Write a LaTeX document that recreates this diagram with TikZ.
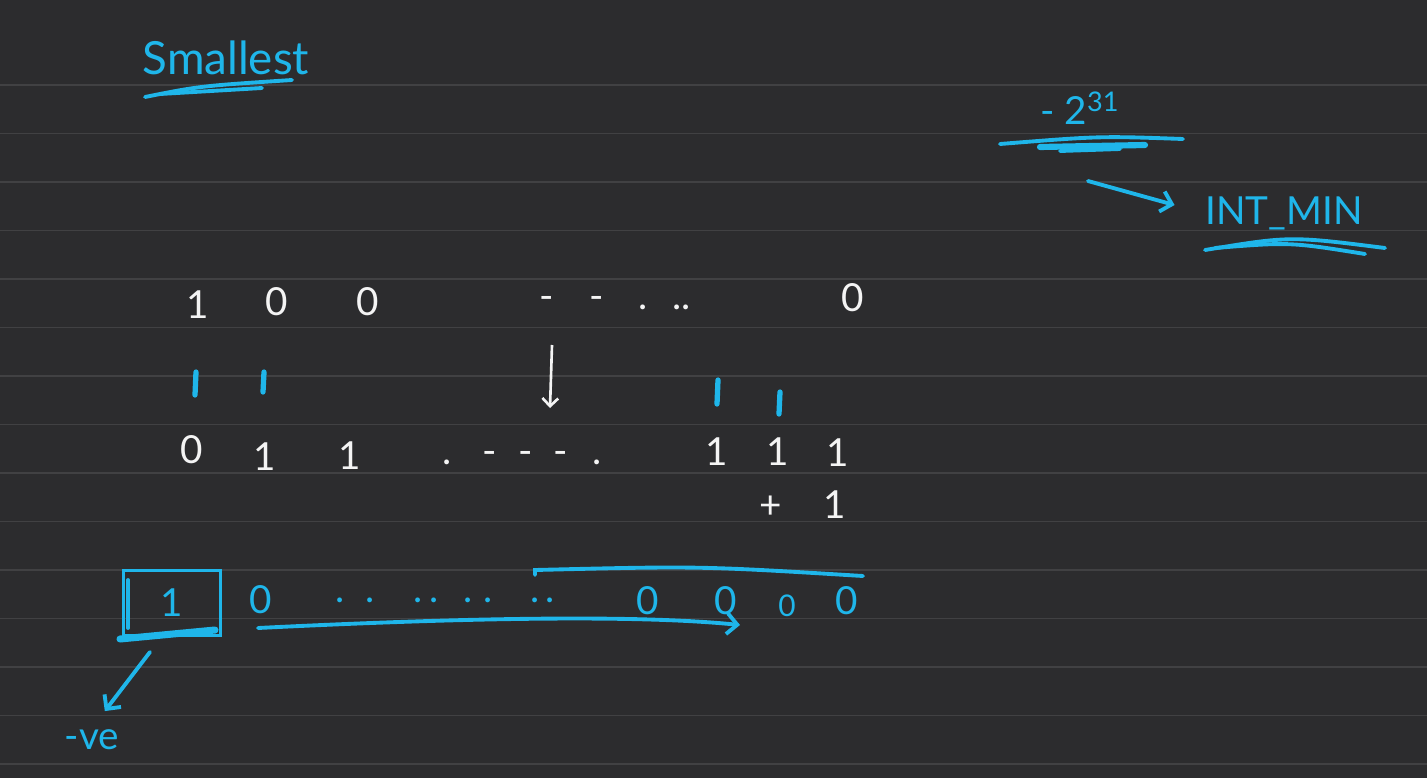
\documentclass[tikz,border=0pt]{standalone}
\usepackage{fontspec}
\setmainfont{Lato}
\usepackage{tikz}
\usetikzlibrary{arrows.meta, positioning, calc}
\definecolor{Board}{HTML}{2C2C2E}
\definecolor{Rule}{HTML}{414143}
\definecolor{Pen}{HTML}{1FB6EA}
\definecolor{Chalk}{HTML}{F4F4F4}

\begin{document}
\begin{tikzpicture}[x=0.02cm, y=-0.02cm, >=Straight Barb,
  chalk/.style={text=Chalk, font=\fontsize{22}{24}\selectfont, inner sep=1pt},
  pen/.style={text=Pen, font=\fontsize{22}{24}\selectfont, inner sep=1pt},
  stroke/.style={Pen, line width=2.2pt, line cap=round},
  tick/.style={Pen, line width=3pt, line cap=round}]
  \useasboundingbox (0,0) rectangle (1427,778);
  \fill[Board] (0,0) rectangle (1427,778);
  \foreach \k in {0,...,14}
    \draw[Rule, line width=1pt] (0,{85+48.5*\k}) -- (1427,{85+48.5*\k});

  % title
  \node[pen, font=\fontsize{26}{28}\selectfont] (title) at (226,58) {Smallest};
  \draw[stroke] (145,97) .. controls (200,86) .. (292,80);
  \draw[stroke] (160,94) -- (262,88);

  % top right
  \node[pen] (neg) at (1080,108) {- 2\textsuperscript{31}};
  \draw[stroke] (1000,144) .. controls (1100,136) .. (1183,139);
  \draw[stroke, line width=3.5pt] (1040,147) -- (1145,145);
  \draw[stroke] (1060,151) -- (1120,149);
  \node[pen, font=\fontsize{22}{24}\selectfont] (intmin) at (1284,213) {INT\_MIN};
  \draw[stroke] (1205,250) .. controls (1290,236) .. (1385,248);
  \draw[stroke] (1215,248) .. controls (1290,242) .. (1365,254);
  \coordinate (from) at (1088,181);
  \draw[stroke, ->, shorten >=17pt] (from) -- (intmin.west);

  % row 1
  \node[chalk] (b1) at (198,305) {1};
  \node[chalk] (b2) at (277,302) {0};
  \node[chalk] (b3) at (368,302) {0};
  \node[chalk] (bdots) at (615,303) {-\hspace{20pt}-\hspace{20pt}.\hspace{14pt}..};
  \node[chalk] (bn) at (853,298) {0};

  % marks
  \foreach \x/\ya/\yb in {196/372/395, 264/372/392, 718/380/404, 780/392/414}
    \draw[tick] (\x,\ya) -- (\x-1,\yb);
  \coordinate (top) at (552,345);
  \coordinate (tip) at (550,408);
  \draw[Chalk, line width=1.5pt, ->] (top) -- (tip);

  % row 2
  \node[chalk] (c1) at (192,450) {0};
  \node[chalk] (c2) at (265,457) {1};
  \node[chalk] (c3) at (350,456) {1};
  \node[chalk] (cdots) at (522,458) {.\hspace{18pt}-\hspace{12pt}-\hspace{12pt}-\hspace{14pt}.};
  \node[chalk] (c4) at (717,452) {1};
  \node[chalk] (c5) at (778,452) {1};
  \node[chalk] (c6) at (838,453) {1};
  \node[chalk] (plus) at (771,507) {+};
  \node[chalk] (one) at (835,505) {1};

  % result
  \node[pen, draw=Pen, line width=2.2pt, minimum width=1.94cm, minimum height=1.3cm] (sign) at (172,603) {1};
  \draw[stroke] (128,580) -- (128,628);
  \draw[stroke, line width=4pt] (120,639) -- (215,630);
  \node[pen] (z1) at (261,600) {0};
  \node[pen] (zdots) at (445,600) {.\hspace{12pt}.\hspace{22pt}.\hspace{4pt}.\hspace{14pt}.\hspace{6pt}.\hspace{22pt}.\hspace{3pt}.};
  \node[pen] (z2) at (648,601) {0};
  \node[pen] (z3) at (726,601) {0};
  \node[pen, font=\fontsize{17}{19}\selectfont] (z4) at (787,606) {0};
  \node[pen] (z5) at (847,601) {0};
  \draw[stroke] (535,575) -- (535,570) .. controls (700,566) .. (863,576);
  \coordinate (ustart) at (258,628);
  \coordinate (uend) at (740,625);
  \draw[stroke, ->] (ustart) .. controls (500,616) and (650,616) .. (uend);
  \node[pen] (sgn) at (92,740) {-ve};
  \coordinate (sfoot) at (150,652);
  \draw[stroke, ->, shorten >=12pt] (sfoot) -- (sgn.north);
\end{tikzpicture}
\end{document}
